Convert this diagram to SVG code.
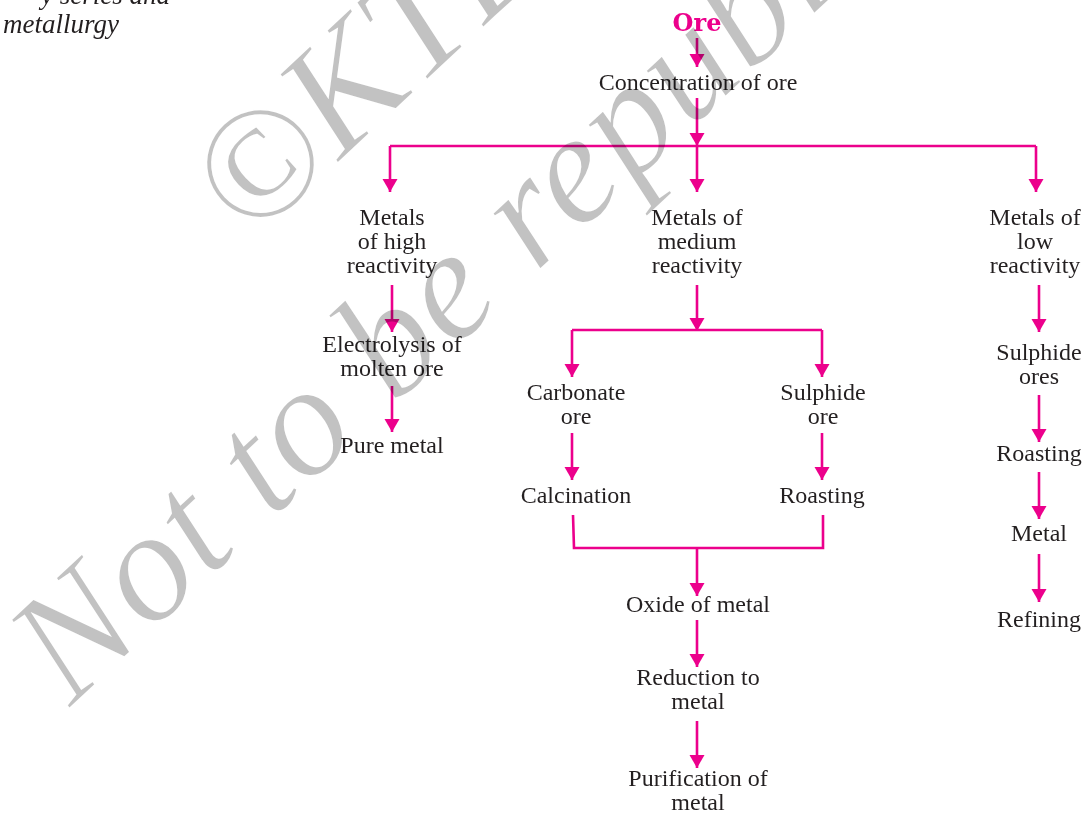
<svg xmlns="http://www.w3.org/2000/svg" width="1084" height="814" viewBox="0 0 1084 814">
<style>
.t{font-family:"Liberation Serif","Times New Roman",serif;font-size:24px;fill:#231f20;text-anchor:middle}
.hd{font-family:"Liberation Serif","Times New Roman",serif;font-size:27px;font-style:italic;fill:#231f20}
.ore{font-family:"DejaVu Serif",serif;font-size:24px;font-weight:bold;fill:#ec008c;text-anchor:middle}
.wm{font-family:"Liberation Serif","Times New Roman",serif;font-size:160px;font-style:italic;font-weight:normal;fill:#c2c2c2;stroke:#ffffff;stroke-width:1.6px}
.c{fill:none;stroke:#ec008c;stroke-width:2.6}
.a{marker-end:url(#ah)}
</style>
<defs>
<marker id="ah" markerUnits="userSpaceOnUse" markerWidth="16" markerHeight="16" refX="13" refY="7.5" orient="auto">
<path d="M0,0 L13,7.5 L0,15 z" fill="#ec008c"/>
</marker>
</defs>
<rect width="1084" height="814" fill="#ffffff"/>
<g id="heading">
<text class="hd" x="170" y="4" text-anchor="end">y series and</text>
<text class="hd" x="3" y="33">metallurgy</text>
</g>
<g id="connectors">
<path class="c a" d="M697,38 V67"/>
<path class="c a" d="M697,98 V146"/>
<path class="c" d="M390,146 H1036"/>
<path class="c a" d="M390,146 V192"/>
<path class="c a" d="M697,146 V192"/>
<path class="c a" d="M1036,146 V192"/>
<path class="c a" d="M392,285 V332"/>
<path class="c a" d="M392,386 V432"/>
<path class="c a" d="M697,285 V331"/>
<path class="c" d="M572,330 H822"/>
<path class="c a" d="M572,330 V377"/>
<path class="c a" d="M822,330 V377"/>
<path class="c a" d="M572,433 V480"/>
<path class="c a" d="M822,433 V480"/>
<path class="c" d="M573,515 L574,548 H823 L823,515"/>
<path class="c a" d="M697,548 V596"/>
<path class="c a" d="M697,620 V667"/>
<path class="c a" d="M697,721 V768"/>
<path class="c a" d="M1039,285 V332"/>
<path class="c a" d="M1039,395 V442"/>
<path class="c a" d="M1039,472 V519"/>
<path class="c a" d="M1039,554 V602"/>
</g>
<g id="n-ore"><text class="ore" x="697" y="31">Ore</text></g>
<g id="n-concentration"><text class="t" x="698" y="90">Concentration of ore</text></g>
<g id="n-high"><text class="t" x="392" y="225">Metals</text><text class="t" x="392" y="249">of high</text><text class="t" x="392" y="273">reactivity</text></g>
<g id="n-medium"><text class="t" x="697" y="225">Metals of</text><text class="t" x="697" y="249">medium</text><text class="t" x="697" y="273">reactivity</text></g>
<g id="n-low"><text class="t" x="1035" y="225">Metals of</text><text class="t" x="1035" y="249">low</text><text class="t" x="1035" y="273">reactivity</text></g>
<g id="n-electrolysis"><text class="t" x="392" y="352">Electrolysis of</text><text class="t" x="392" y="376">molten ore</text></g>
<g id="n-pure"><text class="t" x="392" y="453">Pure metal</text></g>
<g id="n-carbonate"><text class="t" x="576" y="400">Carbonate</text><text class="t" x="576" y="424">ore</text></g>
<g id="n-sulphide"><text class="t" x="823" y="400">Sulphide</text><text class="t" x="823" y="424">ore</text></g>
<g id="n-calcination"><text class="t" x="576" y="503">Calcination</text></g>
<g id="n-roasting"><text class="t" x="822" y="503">Roasting</text></g>
<g id="n-oxide"><text class="t" x="698" y="612">Oxide of metal</text></g>
<g id="n-reduction"><text class="t" x="698" y="685">Reduction to</text><text class="t" x="698" y="709">metal</text></g>
<g id="n-purification"><text class="t" x="698" y="786">Purification of</text><text class="t" x="698" y="810">metal</text></g>
<g id="n-sulphide-ores"><text class="t" x="1039" y="360">Sulphide</text><text class="t" x="1039" y="384">ores</text></g>
<g id="n-roasting2"><text class="t" x="1039" y="461">Roasting</text></g>
<g id="n-metal"><text class="t" x="1039" y="541">Metal</text></g>
<g id="n-refining"><text class="t" x="1039" y="627">Refining</text></g>
<g id="watermark" style="mix-blend-mode:multiply">
<text class="wm" transform="translate(250,245) rotate(-43)">©KTBS</text>
<text class="wm" transform="translate(70,708) rotate(-43)" letter-spacing="1">Not to be republished</text>
</g>
</svg>
